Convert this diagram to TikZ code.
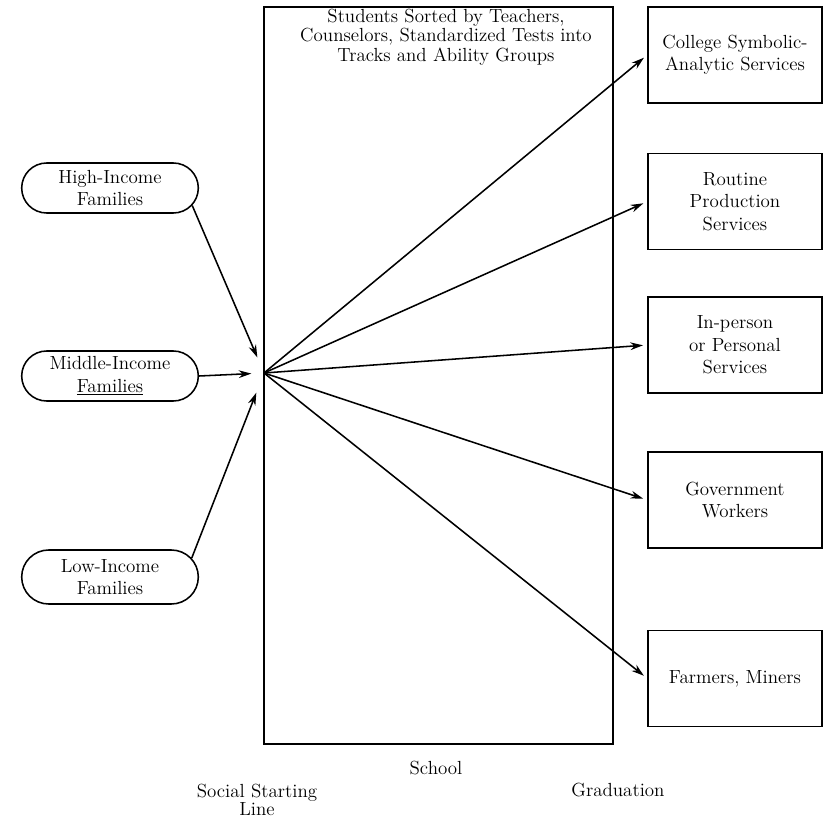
\documentclass[tikz,border=0pt]{standalone}
\usepackage{tikz}
\usetikzlibrary{shapes.misc,arrows.meta,positioning}

\begin{document}
\begin{tikzpicture}[font=\fontsize{13.5}{16}\selectfont, line width=1.1pt,
    familybox/.style={draw, rounded rectangle, minimum width=4.65cm,
                      minimum height=1.25cm, align=center},
    jobbox/.style={draw, minimum width=4.35cm, minimum height=2.4cm, align=center},
    flow/.style={-{Stealth[length=9pt,width=5.5pt]}}]
  \useasboundingbox (0,0) rectangle (20.625,-20.525);
  \node[draw, minimum width=8.725cm, minimum height=18.425cm](school) at (10.9625,-9.3875){};
  \node[align=center, anchor=north, inner sep=0pt, font=\fontsize{13.5}{14}\selectfont](sorted)
        at (11.15,-0.2){Students Sorted by Teachers,\\Counselors, Standardized Tests into\\Tracks and Ability Groups};
  \coordinate (start) at (6.6,-9.325);
  % families
  \node[familybox](high) at (2.75,-4.7){High-Income\\Families};
  \node[familybox](middle) at (2.75,-9.4){Middle-Income\\\underline{Families}};
  \node[familybox, minimum height=1.35cm](low) at (2.75,-14.425){Low-Income\\Families};
  % jobs
  \node[jobbox](college) at (18.375,-1.375){College Symbolic-\\Analytic Services};
  \node[jobbox](routine) at (18.375,-5.04){Routine\\Production\\Services};
  \node[jobbox](personal) at (18.375,-8.625){In-person\\or Personal\\Services};
  \node[jobbox](government) at (18.375,-12.5){Government\\Workers};
  \node[jobbox](farmers) at (18.375,-16.96){Farmers, Miners};
  % labels
  \node(schoollbl) at (10.9,-19.2){School};
  \node(graduation) at (15.45,-19.75){Graduation};
  \node[align=center, inner sep=0pt, font=\fontsize{13.5}{13}\selectfont](startline)
        at (6.425,-20.0){Social Starting\\Line};
  % arrows
  \draw[flow, shorten >=12pt] (high.-12) -- (start);
  \draw[flow, shorten >=9pt] (middle.east) -- (start);
  \draw[flow, shorten >=15pt] (low.13) -- (start);
  \draw[flow, shorten >=3pt] (start) -- (college.west);
  \draw[flow, shorten >=3pt] (start) -- (routine.west);
  \draw[flow, shorten >=3pt] (start) -- (personal.west);
  \draw[flow, shorten >=3pt] (start) -- (government.west);
  \draw[flow, shorten >=3pt] (start) -- (farmers.west);
\end{tikzpicture}
\end{document}
